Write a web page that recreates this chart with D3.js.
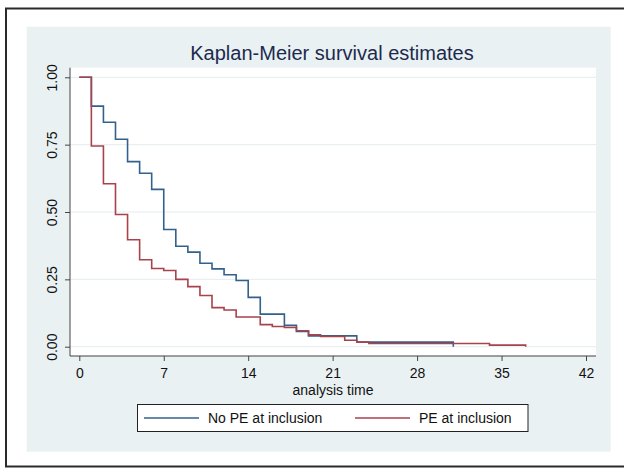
<!DOCTYPE html>
<html>
<head>
<meta charset="utf-8">
<script src="https://cdn.jsdelivr.net/npm/d3@7"></script>
<style>
  body { margin: 0; background: #fff; }
  svg text { font-family: "Liberation Sans", Arial, Helvetica, sans-serif; }
</style>
</head>
<body>
<svg id="chart" width="624" height="470"></svg>
<script>
// KM step points
const noPeTime = [0, 1, 2, 3, 4, 5, 6, 7, 8, 9, 10, 11, 12, 13, 14, 15, 17, 18, 19, 23, 31];
const noPeSurv = [1, 0.893, 0.833, 0.770, 0.687, 0.644, 0.584, 0.435, 0.373, 0.351, 0.310, 0.289, 0.267, 0.246, 0.183, 0.121, 0.079, 0.057, 0.040, 0.017, 0];
const peTime = [0, 1, 2, 3, 4, 5, 6, 7, 8, 9, 10, 11, 12, 13, 15, 16, 17, 18, 19, 20, 22, 23, 24, 34, 37];
const peSurv = [1, 0.745, 0.605, 0.491, 0.397, 0.323, 0.290, 0.283, 0.250, 0.223, 0.190, 0.145, 0.136, 0.110, 0.082, 0.075, 0.071, 0.059, 0.044, 0.038, 0.024, 0.017, 0.012, 0.006, 0];
const xTicks = [0, 7, 14, 21, 28, 35, 42];
const yTicks = [0, 0.25, 0.5, 0.75, 1];
const seriesNames = ['No PE at inclusion', 'PE at inclusion'];
const seriesColors = ['#33618d', '#a8424b'];

const svg = d3.select('#chart');
const x = d3.scaleLinear().domain([0, 42]).range([79.3, 586]);
const y = d3.scaleLinear().domain([0, 1]).range([346.7, 77.3]);

// outer frame (right edge runs off the picture) and graph background
svg.append('rect')
    .attr('x', 6).attr('y', 8.5).attr('width', 640).attr('height', 458)
    .attr('fill', '#fff').attr('stroke', '#2a2a2a').attr('stroke-width', 2);
svg.append('rect')
    .attr('x', 26.7).attr('y', 26.7).attr('width', 584).attr('height', 425)
    .attr('fill', '#eaf1f3');
svg.append('rect')
    .attr('x', 70).attr('y', 67.7).attr('width', 526).attr('height', 288)
    .attr('fill', '#fff');

svg.append('text')
    .attr('x', 332).attr('y', 59.5)
    .attr('text-anchor', 'middle')
    .attr('font-size', 20)
    .attr('fill', '#1c2a4e')
    .text('Kaplan-Meier survival estimates');

// horizontal grid
svg.append('g')
    .selectAll('line')
    .data(yTicks)
    .enter()
    .append('line')
    .attr('x1', 70).attr('x2', 596)
    .attr('y1', d => y(d)).attr('y2', d => y(d))
    .attr('stroke', '#e4edf0').attr('stroke-width', 1);

// axes
const yAxis = svg.append('g')
    .attr('transform', 'translate(70,0)')
    .call(d3.axisLeft(y).tickValues(yTicks).tickFormat(d3.format('.2f')).tickSize(5).tickSizeOuter(0));
yAxis.select('.domain').attr('d', 'M0,67.7V356');
yAxis.selectAll('.tick text').each(function () {
    d3.select(this)
        .attr('x', 0).attr('y', 0).attr('dy', 0)
        .attr('text-anchor', 'middle')
        .attr('transform', 'translate(-13.5,0) rotate(-90)');
});

const xAxis = svg.append('g')
    .attr('transform', 'translate(0,356)')
    .call(d3.axisBottom(x).tickValues(xTicks).tickSize(5).tickSizeOuter(0));
xAxis.select('.domain').attr('d', 'M70,0H596');

svg.selectAll('.tick text').attr('font-size', 14).attr('fill', '#111').attr('font-family', '"Liberation Sans", Arial, sans-serif');
svg.selectAll('.tick line, .domain').attr('stroke', '#444');
xAxis.selectAll('.tick text').attr('dy', '1.0em');

svg.append('text')
    .attr('x', 333).attr('y', 395)
    .attr('text-anchor', 'middle')
    .attr('font-size', 14)
    .attr('fill', '#111')
    .text('analysis time');

// survival curves
const step = d3.line()
    .x(d => x(d[0]))
    .y(d => y(d[1]))
    .curve(d3.curveStepAfter);

const curves = [d3.zip(noPeTime, noPeSurv), d3.zip(peTime, peSurv)];
svg.append('g')
    .selectAll('path')
    .data(curves)
    .enter()
    .append('path')
    .attr('d', step)
    .attr('fill', 'none')
    .attr('stroke', (d, i) => seriesColors[i])
    .attr('stroke-width', 1.6);

// legend
svg.append('rect')
    .attr('x', 137.5).attr('y', 404.5).attr('width', 390.5).attr('height', 27)
    .attr('fill', '#fff').attr('stroke', '#222').attr('stroke-width', 1);

const legendX = [144, 355];
const item = svg.append('g')
    .selectAll('g')
    .data(seriesNames)
    .enter()
    .append('g')
    .attr('transform', (d, i) => `translate(${legendX[i]},418)`);
item.append('line')
    .attr('x1', 0).attr('x2', 55)
    .attr('stroke', (d, i) => seriesColors[i])
    .attr('stroke-width', 1.6);
item.append('text')
    .attr('x', 64).attr('y', 5)
    .attr('font-size', 14)
    .attr('fill', '#111')
    .text(d => d);
</script>
</body>
</html>
